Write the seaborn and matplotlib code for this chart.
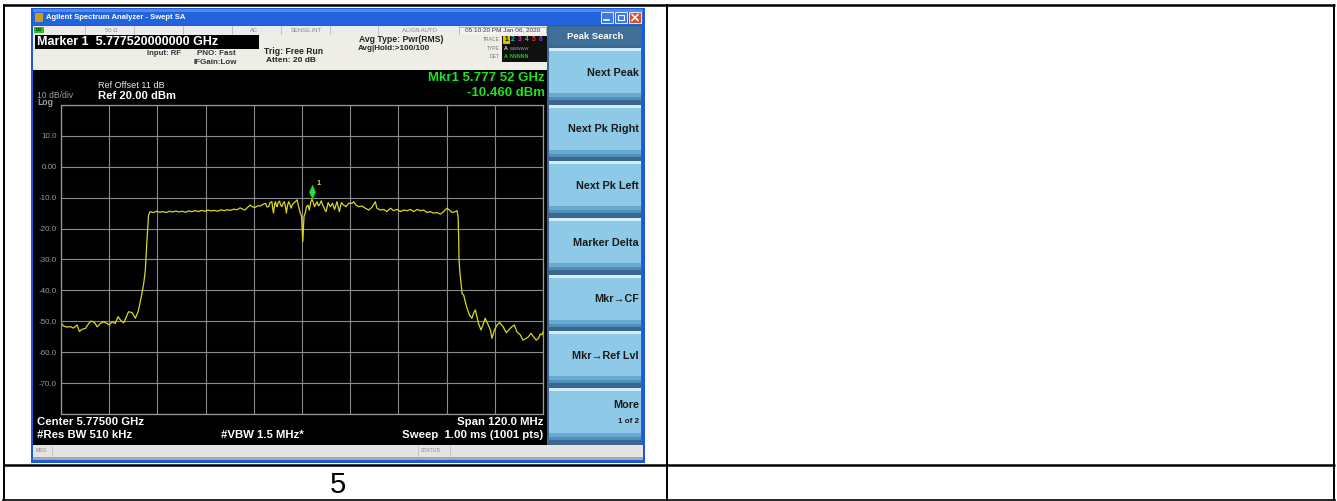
import matplotlib
matplotlib.use('Agg')
import matplotlib.pyplot as plt
from matplotlib.patches import Rectangle
from matplotlib.path import Path
import seaborn as sns
import numpy as np
import pandas as pd

# trace: offset from centre (MHz), level (dBm)
offset_mhz = [
    -60.0, -59.4, -58.5, -57.7, -56.9, -56.0, -55.4, -54.8, -53.9, -53.1,
    -52.5, -51.6, -51.0, -50.2, -49.4, -48.5, -48.0, -47.3, -46.5, -45.8,
    -45.2, -44.4, -43.7, -43.2, -42.3, -41.5, -40.8, -40.0, -39.4, -39.0,
    -38.6, -38.2, -37.8, -37.0, -36.2, -35.4, -34.6, -33.8, -33.0, -32.2,
    -31.4, -30.6, -29.8, -29.0, -28.2, -27.4, -26.6, -25.8, -25.0, -24.2,
    -23.4, -22.6, -21.8, -21.0, -20.2, -19.4, -18.6, -17.8, -17.0, -16.2,
    -15.4, -14.8, -14.2, -13.6, -12.9, -12.3, -11.6, -11.0, -10.4, -9.8,
    -9.1, -8.7, -8.3, -7.9, -7.5, -7.3, -7.1, -6.8, -6.6, -6.4,
    -6.2, -5.9, -5.6, -5.3, -5.0, -4.7, -4.4, -4.1, -3.9, -3.6,
    -3.3, -3.0, -2.7, -2.4, -2.1, -1.6, -1.2, -0.85, -0.4, -0.1,
    0.2, 0.5, 0.8, 1.1, 1.5, 1.8, 2.2, 2.52, 3.15, 3.45,
    3.75, 4.05, 4.3, 4.8, 5.1, 5.4, 5.7, 6.0, 6.5, 7.05,
    7.6, 8.1, 8.7, 9.3, 9.8, 10.35, 10.95, 11.6, 12.45, 12.85,
    13.45, 14.1, 14.9, 15.75, 16.6, 17.4, 18.25, 18.65, 19.5, 20.3,
    21.15, 22.0, 22.8, 23.65, 24.5, 25.3, 26.15, 27.0, 27.8, 28.65,
    29.45, 30.3, 31.1, 31.95, 32.75, 33.6, 34.45, 35.25, 36.1, 36.7,
    37.35, 38.15, 38.6, 38.85, 39.0, 39.1, 39.3, 39.6, 39.85, 40.25,
    40.65, 41.1, 41.7, 42.3, 42.7, 43.15, 43.55, 43.95, 44.55, 45.05,
    45.6, 46.2, 46.9, 47.3, 47.9, 48.55, 49.2, 50.05, 50.85, 51.45,
    52.3, 52.85, 53.5, 54.35, 55.0, 55.85, 56.4, 57.0, 57.65, 58.3,
    58.9, 59.3, 59.75, 60.0,
]
level_dbm = [
    -50.7, -51.5, -51.9, -51.7, -52.2, -51.2, -53.3, -52.6, -52.3, -50.7,
    -49.9, -50.5, -51.8, -50.7, -50.2, -50.7, -51.2, -50.2, -50.7, -48.5,
    -49.6, -50.5, -48.5, -46.9, -47.2, -49.0, -46.9, -42.0, -37.7, -33.4,
    -23.7, -15.6, -14.5, -14.8, -14.4, -14.7, -14.5, -14.8, -14.4, -14.6,
    -14.3, -14.6, -14.4, -14.7, -14.3, -14.5, -14.2, -14.5, -14.1, -14.4,
    -14.0, -14.3, -14.1, -14.4, -13.9, -14.2, -13.9, -14.1, -13.7, -13.9,
    -13.3, -13.7, -14.0, -13.2, -12.4, -13.0, -13.1, -12.6, -12.7, -12.2,
    -11.8, -13.0, -12.9, -11.5, -11.3, -13.5, -15.0, -12.0, -11.3, -12.5,
    -12.9, -11.5, -11.1, -12.4, -12.9, -11.8, -11.3, -13.0, -15.0, -12.5,
    -11.3, -12.2, -13.4, -12.3, -11.8, -11.2, -10.7, -12.9, -15.0, -16.1,
    -24.2, -16.1, -15.0, -13.0, -12.4, -14.0, -11.3, -10.46, -12.9, -12.0,
    -11.3, -12.6, -12.4, -11.0, -12.3, -12.9, -14.0, -14.5, -11.6, -12.9,
    -11.8, -13.8, -11.3, -14.5, -11.6, -12.4, -12.9, -11.8, -11.8, -11.3,
    -12.4, -12.9, -12.7, -13.4, -14.0, -13.1, -11.3, -13.4, -14.0, -13.8,
    -14.5, -13.4, -14.2, -13.8, -14.5, -14.0, -14.2, -13.8, -14.5, -13.8,
    -14.2, -14.0, -14.8, -14.5, -15.0, -14.8, -15.3, -14.5, -13.4, -14.0,
    -14.8, -14.5, -14.2, -16.1, -22.6, -30.2, -34.0, -37.7, -41.0, -41.5,
    -43.7, -45.8, -48.0, -49.0, -47.4, -46.3, -48.5, -50.7, -52.8, -51.2,
    -49.0, -50.7, -52.8, -55.5, -52.8, -51.2, -50.4, -51.7, -53.7, -52.8,
    -51.7, -51.2, -53.4, -54.4, -56.1, -55.5, -55.0, -53.9, -55.0, -56.1,
    -55.5, -54.1, -54.4, -53.4,
]

mkr_offset_mhz = 2.52
mkr_level_dbm = -10.46

ytick_vals = [20, 10, 0, -10, -20, -30, -40, -50, -60, -70, -80]
ytick_text = ['', '10.0', '0.00', '-10.0', '-20.0', '-30.0', '-40.0',
              '-50.0', '-60.0', '-70.0', '']

softkeys = ['Next Peak', 'Next Pk Right', 'Next Pk Left', 'Marker Delta',
            'Mkr\u2192CF', 'Mkr\u2192Ref Lvl', 'More']

status_cells = ['50 \u03a9', 'AC', 'SENSE:INT', 'ALIGN AUTO']

plt.rcParams['font.family'] = ['Liberation Sans', 'DejaVu Sans']

W, H = 1337, 501
fig = plt.figure(figsize=(W / 100, H / 100), dpi=100)
fig.patch.set_facecolor('white')

# background layer in pixel coordinates (window chrome + table)
bg = fig.add_axes([0, 0, 1, 1])
bg.set_xlim(0, W)
bg.set_ylim(H, 0)
bg.axis('off')


def box(x0, y0, x1, y1, color, ec='none', lw=0):
    bg.add_patch(Rectangle((x0, y0), x1 - x0, y1 - y0, facecolor=color,
                           edgecolor=ec, linewidth=lw))


def txt(x, y, s, size, color='black', weight='normal', ha='left', va='center'):
    bg.text(x, y, s, fontsize=size, color=color, fontweight=weight, ha=ha, va=va)


# table grid lines
bg.plot([3, 1335], [5, 5], color='black', lw=1.8, solid_capstyle='butt')
bg.plot([3, 1335], [464.5, 464.5], color='black', lw=1.8, solid_capstyle='butt')
bg.plot([3, 1335], [500, 500], color='black', lw=1.2)
for xv in [3.5, 667, 1334]:
    bg.plot([xv, xv], [5, 501], color='black', lw=1.4)

# window frame + title bar
box(31, 8, 645, 463, '#1d5ad6')
box(33, 9, 643, 25, '#2463de')
box(33, 9, 643, 12, '#4f8af0')
box(35, 13, 43, 22, '#c89a2a')
txt(46, 17.5, 'Agilent Spectrum Analyzer - Swept SA', 5.5, 'white', 'bold')
box(601, 12, 613, 23, '#3b78e8', ec='white', lw=0.6)
box(615, 12, 627, 23, '#3b78e8', ec='white', lw=0.6)
box(629, 12, 641, 23, '#d9512c', ec='white', lw=0.6)
bg.plot([604, 609], [20, 20], color='white', lw=1.2)
bg.add_patch(Rectangle((618, 15), 6, 5, facecolor='none', edgecolor='white', lw=0.8))
bg.plot([632, 638], [14.5, 20.5], color='white', lw=1.1)
bg.plot([632, 638], [20.5, 14.5], color='white', lw=1.1)

# status row
box(33, 26, 547, 34, '#ececec')
box(34, 27, 44, 33, '#22c022')
txt(39, 30, 'LXI', 2.6, 'black', 'bold', ha='center')
for xv in [85, 134, 183, 232, 281, 330, 378, 459]:
    bg.plot([xv, xv], [26, 34], color='#b8b8b8', lw=0.6)
for xc, s in zip([111, 254, 306, 420], status_cells):
    txt(xc, 30, s, 4.2, '#8a8a8a', ha='center')
box(459, 26.5, 546, 33.5, '#f4f4f4', ec='#9a9a9a', lw=0.5)
txt(502.5, 30, '05:10:20 PM Jan 06, 2020', 4.6, '#333333', ha='center')

# marker header
box(33, 34, 547, 70, '#efeee6')
box(35, 35, 259, 48.5, 'black')
txt(37, 41.5, 'Marker 1  5.777520000000 GHz', 9, 'white', 'bold')
txt(147, 53.5, 'Input: RF', 5.6, '#333333', 'bold')
txt(197, 53.5, 'PNO: Fast', 5.8, '#333333', 'bold')
txt(194, 62.5, 'IFGain:Low', 5.8, '#333333', 'bold')
txt(264, 51, 'Trig: Free Run', 6.2, '#222222', 'bold')
txt(266, 60, 'Atten: 20 dB', 6.0, '#222222', 'bold')
txt(359, 39.5, 'Avg Type: Pwr(RMS)', 6.2, '#222222', 'bold')
txt(358, 48.5, 'Avg|Hold:>100/100', 5.8, '#222222', 'bold')
txt(500, 39.5, 'TRACE', 3.6, '#777777', ha='right')
txt(500, 48.5, 'TYPE', 3.6, '#777777', ha='right')
txt(500, 56.5, 'DET', 3.6, '#777777', ha='right')
box(502, 35.5, 547, 61.5, '#101010')
box(503, 35.8, 509.5, 43.5, '#d6c400')
trace_cols = ['#111111', '#10c8c8', '#d030d0', '#40c040', '#e03a3a', '#8040e0']
for i, c in enumerate(trace_cols):
    txt(506.3 + i * 6.8, 39.8, str(i + 1), 4.8, c, 'bold', ha='center')
txt(504, 48.5, 'A', 3.8, '#dddddd', 'bold')
txt(510, 48.5, 'WWWWW', 3.0, '#aaaaaa')
txt(504, 56.5, 'A', 3.8, '#22cc22', 'bold')
txt(510, 56.5, 'NNNNN', 3.8, '#22cc22', 'bold')

# screen
box(33, 70, 547, 445, 'black')
txt(98, 85, 'Ref Offset 11 dB', 6.6, '#e8e8e8')
txt(98, 95.5, 'Ref 20.00 dBm', 8.1, 'white', 'bold')
txt(37, 95.5, '10 dB/div', 6.2, '#a0a0a0')
txt(37, 102.5, 'Log', 6.2, '#a0a0a0', 'bold')
txt(545, 78, 'Mkr1 5.777 52 GHz', 9.5, '#22e022', 'bold', ha='right')
txt(545, 92.5, '-10.460 dBm', 9.5, '#22e022', 'bold', ha='right')
txt(37, 422, 'Center 5.77500 GHz', 8.2, 'white', 'bold')
txt(37, 435, '#Res BW 510 kHz', 8.2, 'white', 'bold')
txt(221, 435, '#VBW 1.5 MHz*', 8.2, 'white', 'bold')
txt(543, 422, 'Span 120.0 MHz', 8.2, 'white', 'bold', ha='right')
txt(543, 435, 'Sweep  1.00 ms (1001 pts)', 8.2, 'white', 'bold', ha='right')

# soft key panel
box(547, 26, 642, 445, '#3a6690')
box(549, 27, 641, 46, '#3f6e98')
txt(595, 36.5, 'Peak Search', 6.8, 'white', 'bold', ha='center')
for i, label in enumerate(softkeys):
    y0 = 48 + i * 56.67
    y1 = y0 + 52
    box(549, y0, 641, y1, '#8ecae7')
    box(549, y0, 641, y0 + 3, '#d2eef9')
    box(549, y1 - 7, 641, y1, '#67abd2')
    box(549, y1 - 3, 641, y1, '#4f8fba')
    if label == 'More':
        txt(639, y0 + 17, label, 7.8, '#1a1a1a', 'bold', ha='right')
        txt(639, y0 + 33, '1 of 2', 5.8, '#1a1a1a', 'bold', ha='right')
    else:
        txt(639, (y0 + y1) / 2 - 1.5, label, 7.8, '#1a1a1a', 'bold', ha='right')

# message bar
box(33, 445, 643, 460, '#e6e3e3')
box(33, 457, 643, 460, '#a8a6a6')
for xv in [52, 418, 450]:
    bg.plot([xv, xv], [446, 457], color='#c2c0c0', lw=0.6)
txt(36, 451, 'MSG', 3.8, '#888888')
txt(421, 451, 'STATUS', 3.8, '#888888')

# page number cell
txt(338, 485, '5', 21, 'black', ha='center')

# graticule with the trace
left, right, top, bottom = 61, 543, 105, 414
ax = fig.add_axes([left / W, 1 - bottom / H, (right - left) / W, (bottom - top) / H])
ax.set_facecolor('black')
trace = pd.DataFrame({'offset_mhz': offset_mhz, 'level_dbm': level_dbm})
sns.lineplot(data=trace, x='offset_mhz', y='level_dbm', ax=ax,
             color='#d8d820', lw=0.9, estimator=None, sort=False)
ax.set_xlim(-60, 60)
ax.set_ylim(-80, 20)
ax.set_xticks(np.arange(-60, 61, 12))
ax.set_yticks(ytick_vals)
ax.set_yticklabels(ytick_text)
ax.grid(True, color='#8c8c8c', lw=0.8)
ax.set_axisbelow(True)
ax.tick_params(length=0, labelbottom=False, labelleft=True, labelsize=5.8,
               labelcolor='#9a9a9a', pad=3)
ax.set_xlabel('')
ax.set_ylabel('')
for sp in ax.spines.values():
    sp.set_color('#9a9a9a')
    sp.set_linewidth(0.9)

# marker 1: diamond sitting on the peak
diamond = Path([(0, 0), (0.42, 1), (0, 2), (-0.42, 1), (0, 0)],
               [Path.MOVETO, Path.LINETO, Path.LINETO, Path.LINETO, Path.CLOSEPOLY])
ax.plot([mkr_offset_mhz], [mkr_level_dbm], marker=diamond, markersize=21,
        color='#2ee02e', markeredgecolor='#1aa81a', markeredgewidth=0.4, ls='none')
ax.annotate('1', xy=(mkr_offset_mhz, mkr_level_dbm), xytext=(4.5, 11),
            textcoords='offset points', fontsize=5.6, color='#d0d040',
            fontweight='bold', ha='center', va='center')

fig.savefig('out.png', dpi=100)
plt.close(fig)
